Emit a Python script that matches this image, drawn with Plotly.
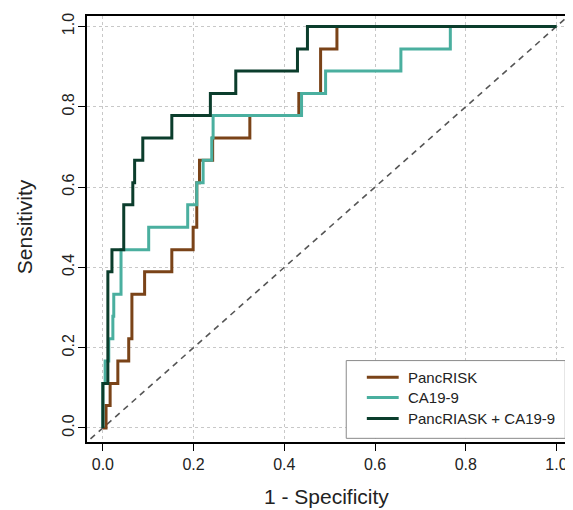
import plotly.graph_objects as go

# ROC step vertices (1 - specificity, sensitivity)
panc_fpr = [0.0, 0.007, 0.016, 0.033, 0.057, 0.064, 0.092, 0.152, 0.199, 0.207, 0.213, 0.242, 0.324, 0.432, 0.480, 0.516, 1.0]
panc_tpr = [0.0, 0.056, 0.111, 0.167, 0.222, 0.333, 0.389, 0.444, 0.500, 0.611, 0.667, 0.722, 0.778, 0.833, 0.944, 1.0, 1.0]

ca_fpr = [0.0, 0.0, 0.005, 0.013, 0.022, 0.024, 0.040, 0.101, 0.187, 0.207, 0.221, 0.240, 0.243, 0.438, 0.491, 0.657, 0.766, 1.0]
ca_tpr = [0.0, 0.111, 0.167, 0.222, 0.278, 0.333, 0.444, 0.500, 0.556, 0.611, 0.667, 0.722, 0.778, 0.833, 0.889, 0.944, 1.0, 1.0]

comb_fpr = [0.0, 0.0, 0.011, 0.020, 0.046, 0.066, 0.070, 0.088, 0.152, 0.237, 0.293, 0.429, 0.451, 1.0]
comb_tpr = [0.0, 0.111, 0.389, 0.444, 0.556, 0.611, 0.667, 0.722, 0.778, 0.833, 0.889, 0.944, 1.0, 1.0]

series_names = ["PancRISK", "CA19-9", "PancRIASK + CA19-9"]
series_colors = ["#7a4318", "#4aaf9f", "#0b3d2c"]

tick_vals = [0.0, 0.2, 0.4, 0.6, 0.8, 1.0]
tick_text = ["0.0", "0.2", "0.4", "0.6", "0.8", "1.0"]

FONT = "Liberation Sans, Arial, sans-serif"

fig = go.Figure()

# reference diagonal
fig.add_trace(go.Scatter(x=[-0.1, 1.1], y=[-0.1, 1.1], mode="lines",
                         line=dict(color="#555555", width=1.6, dash="6px,5px"),
                         showlegend=False, hoverinfo="skip"))

for fx, fy, name, col in zip([panc_fpr, ca_fpr, comb_fpr], [panc_tpr, ca_tpr, comb_tpr],
                             series_names, series_colors):
    fig.add_trace(go.Scatter(x=fx, y=fy, mode="lines", name=name, showlegend=False,
                             line=dict(color=col, width=3, shape="hv")))

axis_common = dict(
    showline=True, mirror=True, linecolor="black", linewidth=2,
    ticks="outside", ticklen=7, tickwidth=1.3, tickcolor="black",
    showgrid=True, gridcolor="#c8c8c8", gridwidth=1, griddash="dot",
    zeroline=False, tickvals=tick_vals, ticktext=tick_text,
    tickfont=dict(family=FONT, size=16, color="#222222"),
)

fig.update_xaxes(range=[-0.035, 1.021], **axis_common)
fig.update_yaxes(range=[-0.035, 1.026], tickangle=-90, ticklabelstandoff=-2, **axis_common)

# custom legend (box, line samples, labels) in paper coordinates
shapes = [dict(type="rect", xref="paper", yref="paper", x0=0.5412, x1=0.9985, y0=0.0086, y1=0.1911,
               line=dict(color="#8a8a8a", width=1), fillcolor="white", layer="above")]
annotations = []
row_y = [0.1522, 0.1042, 0.0552]
for name, col, ry in zip(series_names, series_colors, row_y):
    shapes.append(dict(type="line", xref="paper", yref="paper", x0=0.5842, x1=0.6507, y0=ry, y1=ry,
                       line=dict(color=col, width=3), layer="above"))
    annotations.append(dict(text=name, x=0.6667, y=ry, xref="paper", yref="paper",
                            xanchor="left", yanchor="middle", showarrow=False,
                            font=dict(family=FONT, size=15, color="#222222")))

annotations += [
    dict(text="1 - Specificity", x=0.5, y=-0.128, xref="paper", yref="paper",
         xanchor="center", yanchor="middle", showarrow=False,
         font=dict(family=FONT, size=21, color="#222222")),
    dict(text="Sensitivity", x=-0.13, y=0.506, xref="paper", yref="paper",
         xanchor="center", yanchor="middle", showarrow=False, textangle=-90,
         font=dict(family=FONT, size=21, color="#222222")),
]

fig.update_layout(
    width=565, height=502,
    margin=dict(l=79, r=5, t=5, b=68),
    paper_bgcolor="white", plot_bgcolor="white",
    font=dict(family=FONT, color="#222222"),
    showlegend=False,
    shapes=shapes,
    annotations=annotations,
)

fig.write_html("out.html")
